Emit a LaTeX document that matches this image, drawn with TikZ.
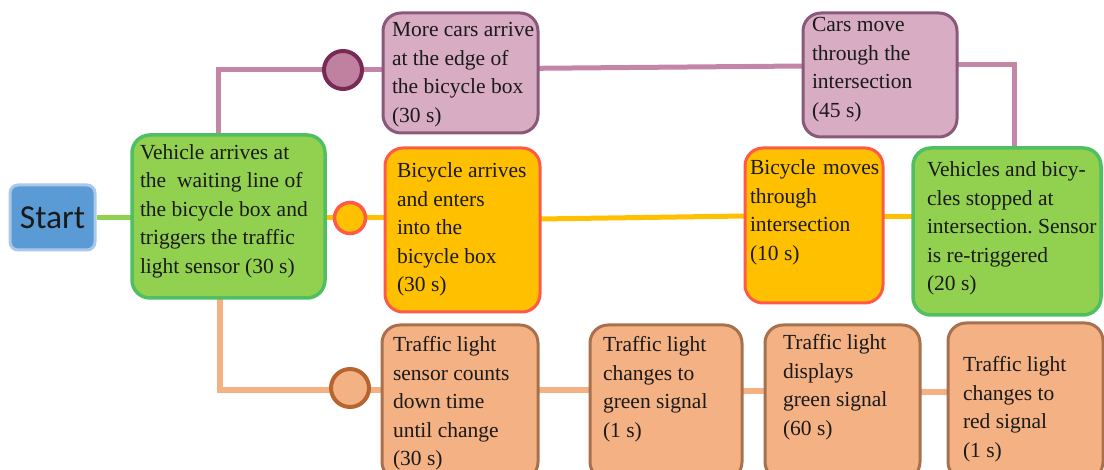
\documentclass[tikz,border=0pt]{standalone}
\usepackage{fontspec}
\setmainfont{Liberation Serif}
\newfontfamily\startfont{Carlito}
\usetikzlibrary{backgrounds}
\frenchspacing
\definecolor{txt}{HTML}{1A1A1A}
\definecolor{startfill}{HTML}{5B9BD5}
\definecolor{startdraw}{HTML}{A9C8EA}
\definecolor{gfill}{HTML}{92D050}
\definecolor{gdraw}{HTML}{4FBF62}
\definecolor{pfill}{HTML}{D8ACC3}
\definecolor{pdraw}{HTML}{8A5878}
\definecolor{pline}{HTML}{C486A8}
\definecolor{pcfill}{HTML}{C0809F}
\definecolor{pcdraw}{HTML}{782A55}
\definecolor{ofill}{HTML}{FFC000}
\definecolor{odraw}{HTML}{FF5A48}
\definecolor{sfill}{HTML}{F4B183}
\definecolor{sdraw}{HTML}{A8714E}
\definecolor{scdraw}{HTML}{B8642E}
\newcommand\bxt[5]{\parbox[c][#2][t]{#1}{\vspace*{\dimexpr#4-20pt\relax}\hspace*{#3}\begin{tabular}[t]{@{}l@{}}#5\end{tabular}}}
\tikzset{
  box/.style={rounded corners=18pt, line width=3pt, inner sep=0pt, outer sep=0pt,
    anchor=north west, font=\fontsize{21.5}{28.5}\selectfont, text=txt},
  gbox/.style={box, fill=gfill, draw=gdraw, line width=3.5pt},
  pbox/.style={box, fill=pfill, draw=pdraw},
  obox/.style={box, fill=ofill, draw=odraw},
  sbox/.style={box, fill=sfill, draw=sdraw},
  dot/.style={circle, inner sep=0pt, outer sep=0pt},
  gline/.style={draw=gfill, line width=5pt},
  pline/.style={draw=pline, line width=5pt},
  oline/.style={draw=ofill, line width=5pt},
  sline/.style={draw=sfill, line width=5.5pt},
}
\begin{document}
\begin{tikzpicture}[x=1pt,y=-1pt]
\useasboundingbox (0,0) rectangle (1104,470);
\clip (0,0) rectangle (1104,470);
\node[fill=startfill, draw=startdraw, line width=3pt, rounded corners=8pt,
  minimum width=85pt, minimum height=65pt, inner sep=0pt,
  font=\startfont\fontsize{33.5}{36}\selectfont, text=txt] (st) at (52.5,217.5) {Start};
\node[gbox] (g1) at (132,135) {\bxt{193pt}{163pt}{8pt}{24.3pt}{Vehicle arrives at\\the\ \ waiting line of\\the bicycle box and\\triggers the traffic\\light sensor (30 s)}};
\node[pbox] (p1) at (383,13) {\bxt{155pt}{120pt}{9pt}{24pt}{More cars arrive\\at the edge of\\the bicycle box\\(30 s)}};
\node[pbox] (p2) at (803,13) {\bxt{154pt}{124pt}{9pt}{18.7pt}{Cars move\\through the\\intersection\\(45 s)}};
\node[obox] (o1) at (385,148) {\bxt{155pt}{164pt}{12pt}{30pt}{Bicycle arrives\\and enters\\into the\\bicycle box\\(30 s)}};
\node[obox] (o2) at (745,148) {\bxt{138pt}{155pt}{5pt}{27pt}{Bicycle\hspace{0.35em}moves\\through\\intersection\\(10 s)}};
\node[gbox] (g2) at (913,148) {\bxt{188pt}{167pt}{14pt}{28.7pt}{Vehicles and bicy-\\cles stopped at\\intersection. Sensor\\is re-triggered\\(20 s)}};
\node[sbox] (s1) at (382,325) {\bxt{156pt}{155pt}{11pt}{27pt}{Traffic light\\sensor counts\\down time\\until change\\(30 s)}};
\node[sbox] (s2) at (590,325) {\bxt{152pt}{155pt}{13pt}{27pt}{Traffic light\\changes to\\green signal\\(1 s)}};
\node[sbox] (s3) at (765,325) {\bxt{155pt}{155pt}{18pt}{25pt}{Traffic light\\displays\\green signal\\(60 s)}};
\node[sbox] (s4) at (948,323) {\bxt{155pt}{157pt}{15pt}{49pt}{Traffic light\\changes to\\red signal\\(1 s)}};
\node[dot, fill=pcfill, draw=pcdraw, line width=4pt, minimum size=38pt] (pc) at (343,70) {};
\node[dot, fill=ofill, draw=odraw, line width=3.5pt, minimum size=31pt] (oc) at (350,218) {};
\node[dot, fill=sfill, draw=scdraw, line width=4pt, minimum size=38pt] (sc) at (350,388) {};
\coordinate (ogl) at ([yshift=9pt]o2.east);
\coordinate (scl) at ([yshift=-2pt]sc.center);
\coordinate (s12) at ([yshift=12.5pt]s1.east);
\coordinate (s23) at ([yshift=11.5pt]s2.east);
\coordinate (s34) at ([yshift=10.5pt]s3.east);
\begin{pgfonlayer}{background}
\draw[gline] (st.east) -- (st.east -| g1.west);
\draw[pline] ([xshift=-10.5pt]g1.north) |- (pc);
\draw[pline] (pc) -- (pc -| p1.west);
\draw[pline] ([yshift=4.7pt]p1.east) -- ([yshift=9pt]p2.west);
\draw[pline] ([yshift=10pt]p2.east) -| ([xshift=7pt]g2.north);
\draw[oline] (g1.east |- oc) -- (oc);
\draw[oline] (oc) -- (oc -| o1.west);
\draw[oline] ([yshift=11pt]o1.east) -- ([yshift=9.5pt]o2.west);
\draw[oline] (ogl) -- (ogl -| g2.west);
\draw[sline] ([xshift=-8.5pt]g1.south) |- (scl);
\draw[sline] (scl) -- (scl -| s1.west);
\draw[sline] (s12) -- (s12 -| s2.west);
\draw[sline] (s23) -- (s23 -| s3.west);
\draw[sline] (s34) -- (s34 -| s4.west);
\end{pgfonlayer}
\end{tikzpicture}
\end{document}
